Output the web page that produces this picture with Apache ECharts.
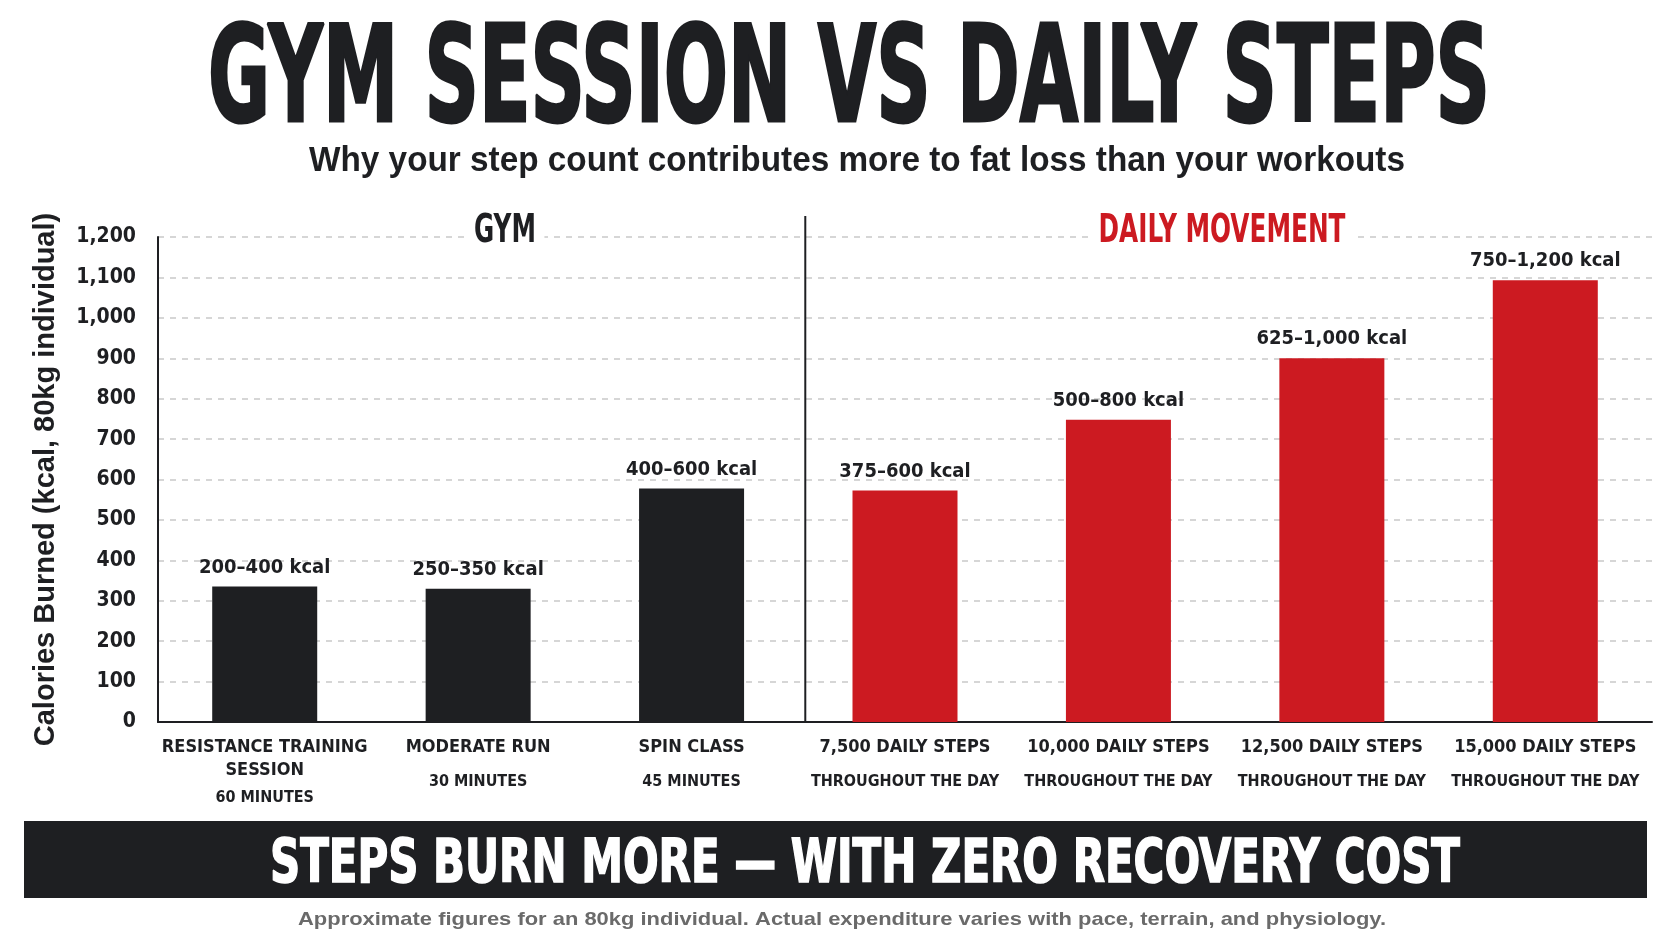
<!DOCTYPE html>
<html>
<head>
<meta charset="utf-8">
<script src="https://cdn.jsdelivr.net/npm/echarts@6/dist/echarts.min.js"></script>
<style>
  html, body { margin: 0; padding: 0; background: #fff; }
  #chartmain { width: 1672px; height: 941px; }
</style>
</head>
<body>
<div id="chartmain"></div>
<script>
// data
var categories = ['RESISTANCE TRAINING\nSESSION', 'MODERATE RUN', 'SPIN CLASS',
  '7,500 DAILY STEPS', '10,000 DAILY STEPS', '12,500 DAILY STEPS', '15,000 DAILY STEPS'];
var durations = ['60 MINUTES', '30 MINUTES', '45 MINUTES',
  'THROUGHOUT THE DAY', 'THROUGHOUT THE DAY', 'THROUGHOUT THE DAY', 'THROUGHOUT THE DAY'];
var calories = [335, 330, 578, 573, 748, 900, 1093];
var rangeLabels = ['200–400 kcal', '250–350 kcal', '400–600 kcal',
  '375–600 kcal', '500–800 kcal', '625–1,000 kcal', '750–1,200 kcal'];
var gymCount = 3;

var DARK = '#1e1f22';
var RED = '#cc1a21';
var NARROW = "'Liberation Sans Narrow', 'DejaVu Sans Condensed', 'Roboto Condensed', sans-serif";
var SANS = "'Liberation Sans', Arial, sans-serif";

// squeeze a text to a target width (the reference uses a very condensed face)
var measureCtx = document.createElement('canvas').getContext('2d');
function fitScale(text, font, width) {
  measureCtx.font = font;
  return width / measureCtx.measureText(text).width;
}

function headText(text, x, y, size, family, color, width, extra) {
  var font = 'bold ' + size + 'px ' + family;
  var st = {
    text: text, font: font, fill: color,
    textAlign: 'center', textVerticalAlign: 'middle'
  };
  for (var k in extra) { st[k] = extra[k]; }
  return {
    type: 'text', x: x, y: y, z: 10,
    scaleX: fitScale(text, font, width),
    style: st
  };
}

var myChart = echarts.init(document.getElementById('chartmain'));

var option = {
  backgroundColor: '#fff',
  animation: false,
  grid: { left: 158, right: 20, top: 237, bottom: 219, containLabel: false },
  xAxis: {
    type: 'category',
    data: categories,
    axisTick: { show: false },
    axisLine: { lineStyle: { color: DARK, width: 2 } },
    axisLabel: {
      interval: 0,
      margin: 14,
      formatter: function (value, index) {
        var lines = value.split('\n');
        var main = lines.map(function (l) { return '{a|' + l + '}'; }).join('\n');
        return main + '\n{' + (lines.length > 1 ? 'c' : 'b') + '|' + durations[index] + '}';
      },
      rich: {
        a: { fontFamily: NARROW, fontWeight: 'bold', fontSize: 18, lineHeight: 23, color: DARK },
        b: { fontFamily: NARROW, fontWeight: 'bold', fontSize: 16, lineHeight: 45, color: DARK },
        c: { fontFamily: NARROW, fontWeight: 'bold', fontSize: 16, lineHeight: 31, color: DARK }
      }
    }
  },
  yAxis: {
    type: 'value',
    min: 0,
    max: 1200,
    interval: 100,
    name: 'Calories Burned (kcal, 80kg individual)',
    nameLocation: 'middle',
    nameGap: 98,
    nameTextStyle: { fontFamily: SANS, fontWeight: 'bold', fontSize: 29, color: DARK },
    axisLine: { show: true, lineStyle: { color: DARK, width: 2 } },
    axisTick: { show: false },
    axisLabel: {
      margin: 22,
      fontFamily: NARROW, fontWeight: 'bold', fontSize: 21, color: DARK,
      formatter: function (v) { return v.toLocaleString('en-US'); }
    },
    splitLine: { lineStyle: { color: '#c9c9c9', width: 1.5, type: [6, 6] } }
  },
  series: [{
    type: 'bar',
    data: calories,
    barWidth: 105,
    itemStyle: {
      color: function (p) { return p.dataIndex < gymCount ? DARK : RED; }
    },
    label: {
      show: true,
      position: 'top',
      distance: 9,
      fontFamily: NARROW, fontWeight: 'bold', fontSize: 20, color: DARK,
      formatter: function (p) { return rangeLabels[p.dataIndex]; }
    }
  }]
};
myChart.setOption(option);

// divider between the two groups, placed on the category boundary
var c2 = myChart.convertToPixel({ xAxisIndex: 0 }, gymCount - 1);
var c3 = myChart.convertToPixel({ xAxisIndex: 0 }, gymCount);
var divX = (c2 + c3) / 2 + 7;
var axisY = myChart.convertToPixel({ yAxisIndex: 0 }, 0);

myChart.setOption({
  graphic: [
    headText('GYM SESSION VS DAILY STEPS', 849, 86, 134, NARROW, DARK, 1282,
      { stroke: DARK, lineWidth: 3 }),
    headText('Why your step count contributes more to fat loss than your workouts',
      857, 161, 35, SANS, DARK, 1096, {}),
    headText('GYM', 505, 232, 39, NARROW, DARK, 62,
      { backgroundColor: '#fff', padding: [0, 12] }),
    headText('DAILY MOVEMENT', 1222, 232, 39, NARROW, RED, 247,
      { backgroundColor: '#fff', padding: [0, 12] }),
    {
      type: 'line', z: 5,
      shape: { x1: divX, y1: 216, x2: divX, y2: axisY },
      style: { stroke: DARK, lineWidth: 2 }
    },
    {
      type: 'rect', z: 5,
      shape: { x: 24, y: 821, width: 1623, height: 77 },
      style: { fill: DARK }
    },
    headText('STEPS BURN MORE — WITH ZERO RECOVERY COST', 865, 866, 60, NARROW, '#fff', 1190,
      { stroke: '#fff', lineWidth: 1.5 }),
    headText('Approximate figures for an 80kg individual. Actual expenditure varies with pace, terrain, and physiology.',
      842, 920, 19, SANS, '#6a6a6a', 1088, {})
  ]
});
</script>
</body>
</html>
